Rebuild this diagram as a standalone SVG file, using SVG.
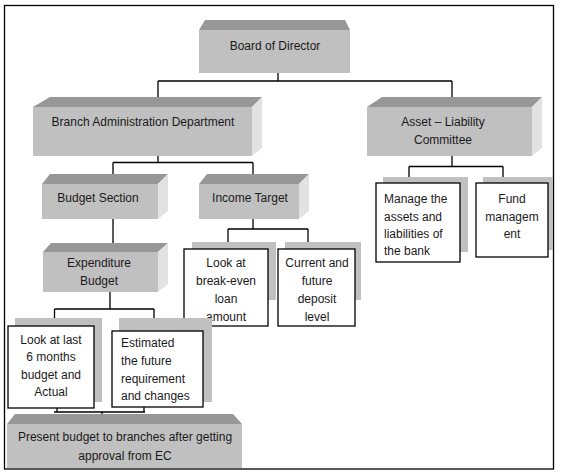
<svg xmlns="http://www.w3.org/2000/svg" width="561" height="476" viewBox="0 0 561 476">
<style>
.front{fill:#c0c0c0}
.top{fill:#979797}
.side{fill:#e2e2e2}
.shadow{fill:#c0c0c0}
.box{fill:#fff;stroke:#000;stroke-width:1.3}
.t{font-family:"Liberation Sans",Arial,sans-serif;font-size:12px;fill:#1a1a1a}
.c{text-anchor:middle}
.ln{fill:none;stroke:#000;stroke-width:1.3}
</style>
<rect x="0" y="0" width="561" height="476" fill="#fff"/>
<rect x="4.5" y="5.5" width="549" height="463.5" class="ln"/>
<g id="connectors">
<path class="ln" d="M278 73V81M158 81H452M158 81V97M452 81V97"/>
<path class="ln" d="M158 156V162.5M113 162.5H253M113 162.5V174M253 162.5V174"/>
<path class="ln" d="M452 156V166.5M409 166.5H503M409 166.5V177M503 166.5V177"/>
<path class="ln" d="M113 219V243"/>
<path class="ln" d="M253 219V229M228 229H308M228 229V242M308 229V242"/>
<path class="ln" d="M110 292V309M54.5 309H154M54.5 309V318M154 309V318"/>
<path class="ln" d="M11 378V394"/>
<path class="ln" d="M57 399V412M54 412H145M144 398V412M102 412V421"/>
</g>
<g id="board">
<polygon class="top" points="199,30 205,20 345,20 350,30"/>
<rect class="front" x="199" y="30" width="151" height="43"/>
<text class="t c" x="275" y="50">Board of Director</text>
</g>
<g id="branch">
<polygon class="top" points="33,107 50,97 262,97 252,107"/>
<polygon class="side" points="252,107 262,97 262,148 252,156"/>
<rect class="front" x="33" y="107" width="219" height="49"/>
<text class="t c" x="143" y="126">Branch Administration Department</text>
</g>
<g id="asset">
<polygon class="top" points="367,107 382,97 542,97 532,107"/>
<polygon class="side" points="532,107 542,97 542,148 532,156"/>
<rect class="front" x="367" y="107" width="165" height="49"/>
<text class="t c" x="443" y="126">Asset – Liability</text>
<text class="t c" x="443" y="144">Committee</text>
</g>
<g id="budget-section">
<polygon class="top" points="42,184 50,174 168,174 158,184"/>
<polygon class="side" points="158,184 168,174 168,211 158,219"/>
<rect class="front" x="42" y="184" width="116" height="35"/>
<text class="t c" x="98" y="202">Budget Section</text>
</g>
<g id="income-target">
<polygon class="top" points="199,184 207,174 309,174 299,184"/>
<polygon class="side" points="299,184 309,174 309,211 299,219"/>
<rect class="front" x="199" y="184" width="100" height="35"/>
<text class="t c" x="250" y="202">Income Target</text>
</g>
<g id="expenditure">
<polygon class="top" points="43,252 51,243 168,243 158,252"/>
<polygon class="side" points="158,252 168,243 168,284 158,292"/>
<rect class="front" x="43" y="252" width="115" height="40"/>
<text class="t c" x="99" y="267">Expenditure</text>
<text class="t c" x="99" y="285">Budget</text>
</g>
<g id="manage">
<rect class="shadow" x="383" y="177" width="85" height="75"/>
<rect class="box" x="376" y="183" width="84" height="79"/>
<text class="t" x="384" y="203">Manage the</text>
<text class="t" x="384" y="221">assets and</text>
<text class="t" x="384" y="238">liabilities of</text>
<text class="t" x="384" y="255">the bank</text>
</g>
<g id="fund">
<rect class="shadow" x="483" y="177" width="70" height="73"/>
<rect class="box" x="476" y="183" width="72" height="74"/>
<text class="t c" x="512" y="203">Fund</text>
<text class="t c" x="512" y="221">managem</text>
<text class="t c" x="512" y="238">ent</text>
</g>
<g id="look-breakeven">
<rect class="shadow" x="192" y="242" width="84" height="58"/>
<rect class="box" x="184" y="249" width="84" height="77"/>
<text class="t c" x="226" y="267">Look at</text>
<text class="t c" x="226" y="285">break-even</text>
<text class="t c" x="226" y="303">loan</text>
<text class="t c" x="226" y="321">amount</text>
</g>
<g id="current">
<rect class="shadow" x="285" y="242" width="76" height="58"/>
<rect class="box" x="278" y="249" width="77" height="77"/>
<text class="t c" x="317" y="267">Current and</text>
<text class="t c" x="317" y="285">future</text>
<text class="t c" x="317" y="303">deposit</text>
<text class="t c" x="317" y="321">level</text>
</g>
<g id="look-last">
<rect class="shadow" x="15" y="318" width="87" height="84"/>
<rect class="box" x="8" y="326" width="86" height="82"/>
<text class="t c" x="51" y="344">Look at last</text>
<text class="t c" x="51" y="361">6 months</text>
<text class="t c" x="51" y="379">budget and</text>
<text class="t c" x="51" y="396">Actual</text>
</g>
<g id="estimated">
<rect class="shadow" x="119" y="318" width="93" height="84"/>
<rect class="box" x="112" y="331" width="91" height="76"/>
<text class="t" x="121" y="347">Estimated</text>
<text class="t" x="121" y="365">the future</text>
<text class="t" x="121" y="383">requirement</text>
<text class="t" x="121" y="400">and changes</text>
</g>
<g id="present">
<polygon class="top" points="7,424 15,414 233,414 242,424"/>
<rect class="front" x="7" y="424" width="235" height="44"/>
<text class="t c" x="125" y="441">Present budget to branches after getting</text>
<text class="t c" x="125" y="460">approval from EC</text>
</g>
</svg>
